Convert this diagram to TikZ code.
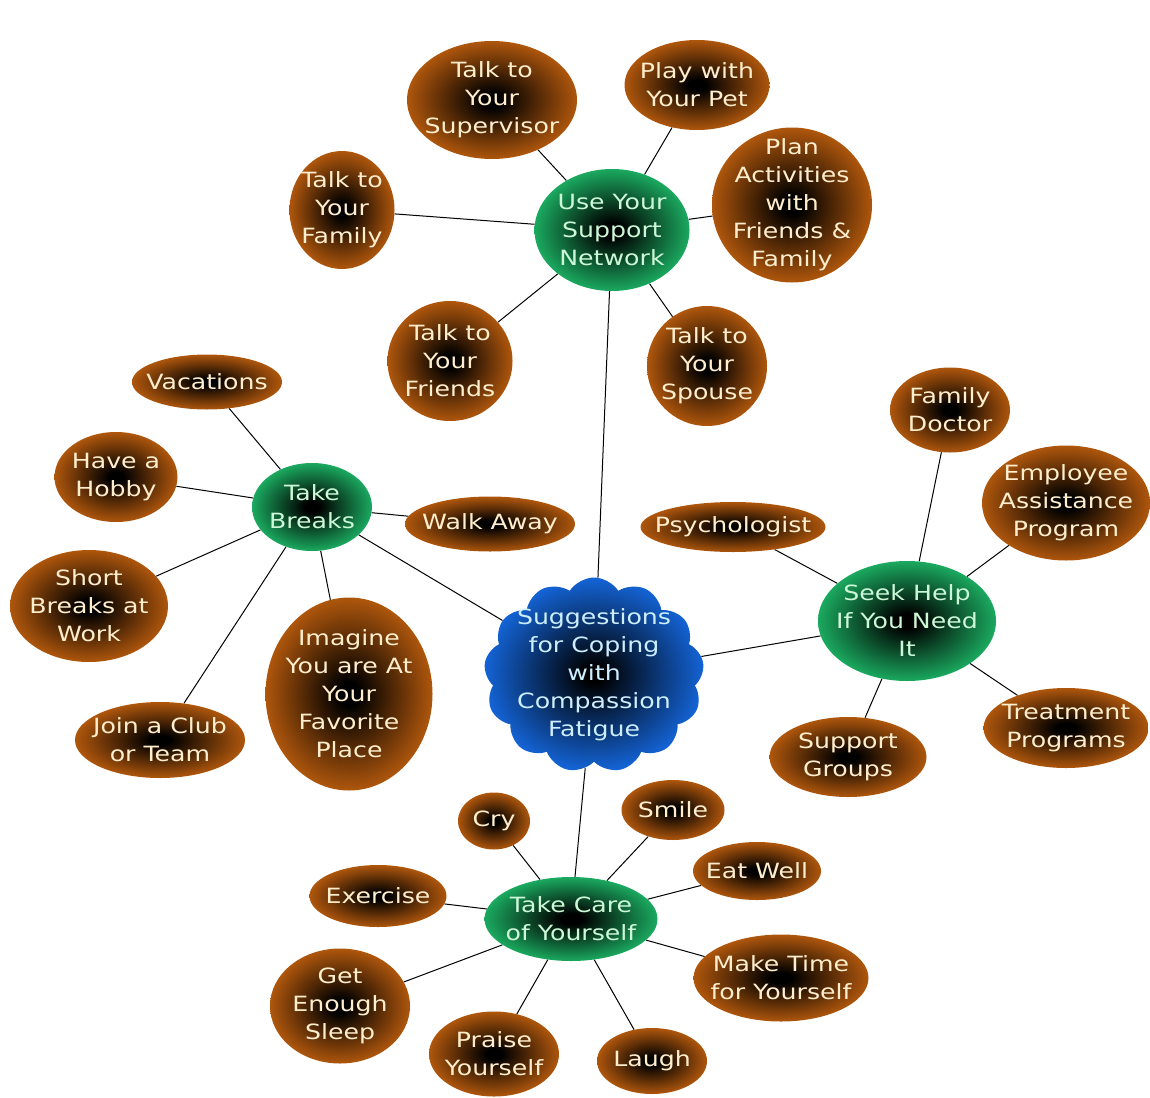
\documentclass[tikz,border=0pt]{standalone}
\usepackage{fontspec}
\newfontfamily\bubfont[FakeStretch=1.2]{DejaVu Sans}
\usetikzlibrary{shapes.geometric,shapes.symbols,backgrounds}
\definecolor{orgc}{RGB}{198,98,14}
\definecolor{grnc}{RGB}{30,192,108}
\definecolor{bluc}{RGB}{20,100,215}
\definecolor{otxt}{RGB}{255,238,205}
\definecolor{gtxt}{RGB}{205,248,215}
\definecolor{btxt}{RGB}{205,238,255}
\pgfdeclareradialshading{oshade}{\pgfpoint{0bp}{0bp}}{color(0bp)=(black); color(3bp)=(black); color(28bp)=(orgc); color(50bp)=(orgc)}
\pgfdeclareradialshading{gshade}{\pgfpoint{0bp}{0bp}}{color(0bp)=(black); color(3bp)=(black); color(28bp)=(grnc); color(50bp)=(grnc)}
\pgfdeclareradialshading{bshade}{\pgfpoint{0bp}{0bp}}{color(0bp)=(black); color(2bp)=(black); color(25bp)=(bluc); color(50bp)=(bluc)}
\tikzset{
  orb/.style n args={2}{ellipse, inner sep=0pt, minimum width=#1, minimum height=#2,
    shading=oshade},
  grb/.style n args={2}{ellipse, inner sep=0pt, minimum width=#1, minimum height=#2,
    shading=gshade},
  txt/.style={align=center, inner sep=0pt, font=\bubfont\fontsize{21}{28}\selectfont},
  otx/.style={txt, text=otxt},
  gtx/.style={txt, text=gtxt},
  btx/.style={txt, text=btxt},
  link/.style={draw=black, line width=1pt}
}
\begin{document}
\begin{tikzpicture}[x=1pt,y=-1pt]
\path[use as bounding box] (0,0) rectangle (1150,1097);
% hubs
\node[cloud, cloud puffs=13, cloud puff arc=115, aspect=1.1, inner sep=0pt,
  minimum width=220, minimum height=195, shading=bshade] (root) at (594,675) {};
\node[btx] (roott) at (root) {Suggestions\\for Coping\\with\\Compassion\\Fatigue};
\node[grb={155}{122}] (sup) at (612,230) {};
\node[gtx] (supt) at (sup) {Use Your\\Support\\Network};
\node[grb={120}{88}] (brk) at (312,507) {};
\node[gtx] (brkt) at (brk) {Take\\Breaks};
\node[grb={178}{120}] (help) at (907,621) {};
\node[gtx] (helpt) at (help) {Seek Help\\If You Need\\It};
\node[grb={173}{84}] (care) at (571,919) {};
\node[gtx] (caret) at (care) {Take Care\\of Yourself};
% support network
\node[orb={170}{118}] (boss) at (492,100) {};
\node[otx] at (boss) {Talk to\\Your\\Supervisor};
\node[orb={145}{90}] (pet) at (697,85) {};
\node[otx] at (pet) {Play with\\Your Pet};
\node[orb={105}{118}] (fam) at (342,210) {};
\node[otx] at (fam) {Talk to\\Your\\Family};
\node[orb={160}{155}] (plan) at (792,205) {};
\node[otx] at (plan) {Plan\\Activities\\with\\Friends \&\\Family};
\node[orb={125}{120}] (frd) at (450,361) {};
\node[otx] at (frd) {Talk to\\Your\\Friends};
\node[orb={120}{120}] (sps) at (707,366) {};
\node[otx] at (sps) {Talk to\\Your\\Spouse};
% breaks
\node[orb={150}{55}] (vac) at (207,382) {};
\node[otx] at (vac) {Vacations};
\node[orb={123}{90}] (hob) at (116,477) {};
\node[otx] at (hob) {Have a\\Hobby};
\node[orb={158}{112}] (sbw) at (89,606) {};
\node[otx] at (sbw) {Short\\Breaks at\\Work};
\node[orb={170}{76}] (club) at (160,740) {};
\node[otx] at (club) {Join a Club\\or Team};
\node[orb={167}{193}] (img) at (349,694) {};
\node[otx] at (img) {Imagine\\You are At\\Your\\Favorite\\Place};
\node[orb={170}{55}] (walk) at (490,524) {};
\node[otx] at (walk) {Walk Away};
% help
\node[orb={185}{50}] (psy) at (733,527) {};
\node[otx] at (psy) {Psychologist};
\node[orb={120}{85}] (doc) at (950,410) {};
\node[otx] at (doc) {Family\\Doctor};
\node[orb={168}{115}] (eap) at (1066,503) {};
\node[otx] at (eap) {Employee\\Assistance\\Program};
\node[orb={165}{80}] (trt) at (1066,728) {};
\node[otx] at (trt) {Treatment\\Programs};
\node[orb={157}{80}] (grp) at (848,757) {};
\node[otx] at (grp) {Support\\Groups};
% care
\node[orb={72}{57}] (cry) at (494,821) {};
\node[otx] at (cry) {Cry};
\node[orb={103}{60}] (smile) at (673,810) {};
\node[otx] at (smile) {Smile};
\node[orb={128}{58}] (eat) at (757,871) {};
\node[otx] at (eat) {Eat Well};
\node[orb={137}{62}] (exe) at (378,896) {};
\node[otx] at (exe) {Exercise};
\node[orb={175}{87}] (mtime) at (781,978) {};
\node[otx] at (mtime) {Make Time\\for Yourself};
\node[orb={140}{115}] (slp) at (340,1006) {};
\node[otx] at (slp) {Get\\Enough\\Sleep};
\node[orb={130}{85}] (prs) at (494,1054) {};
\node[otx] at (prs) {Praise\\Yourself};
\node[orb={110}{66}] (lgh) at (652,1061) {};
\node[otx] at (lgh) {Laugh};
\begin{scope}[on background layer]
\draw[link] (sup) -- (root);
\draw[link] (brk) -- (root);
\draw[link] (help) -- (root);
\draw[link] (care) -- (root);
\foreach \n in {boss,pet,fam,plan,frd,sps} \draw[link] (\n) -- (sup);
\foreach \n in {vac,hob,sbw,club,img,walk} \draw[link] (\n) -- (brk);
\foreach \n in {psy,doc,eap,trt,grp} \draw[link] (\n) -- (help);
\foreach \n in {cry,smile,eat,exe,mtime,slp,prs,lgh} \draw[link] (\n) -- (care);
\end{scope}
\end{tikzpicture}
\end{document}
